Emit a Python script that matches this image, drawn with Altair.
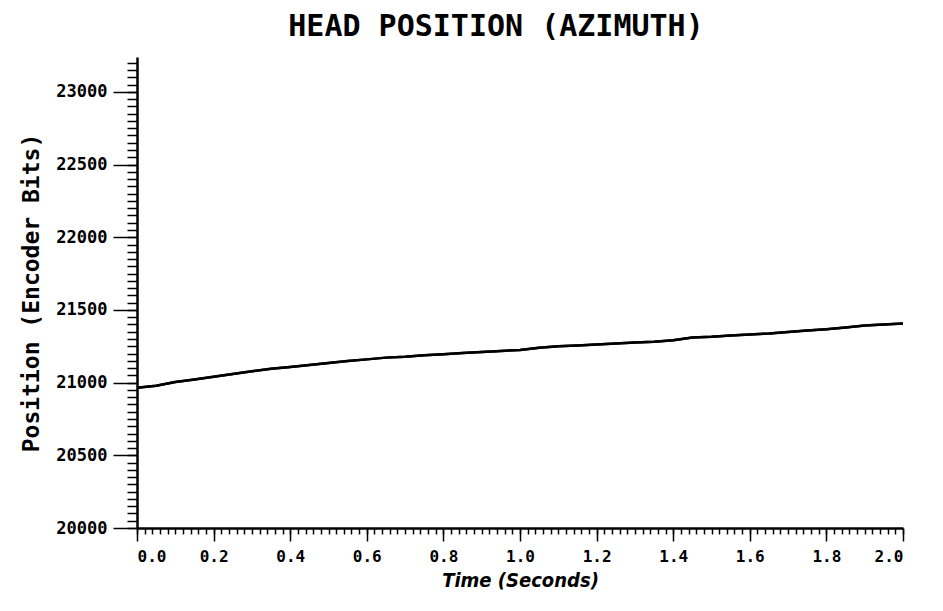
import altair as alt
import pandas as pd

# Data
times = [0.0, 0.05, 0.1, 0.15, 0.2, 0.25, 0.3, 0.35, 0.4, 0.45, 0.5, 0.55, 0.6,
         0.65, 0.7, 0.75, 0.8, 0.85, 0.9, 0.95, 1.0, 1.05, 1.1, 1.15, 1.2, 1.25,
         1.3, 1.35, 1.4, 1.45, 1.5, 1.55, 1.6, 1.65, 1.7, 1.75, 1.8, 1.85, 1.9,
         1.95, 2.0]
positions = [20965, 20978, 21005, 21022, 21040, 21060, 21078, 21095, 21108,
             21121, 21135, 21148, 21160, 21172, 21178, 21188, 21196, 21204,
             21211, 21218, 21225, 21240, 21250, 21256, 21262, 21270, 21276,
             21282, 21292, 21310, 21316, 21325, 21331, 21338, 21348, 21358,
             21368, 21380, 21393, 21400, 21407]

x_major = [0.0, 0.2, 0.4, 0.6, 0.8, 1.0, 1.2, 1.4, 1.6, 1.8, 2.0]
x_minor = [round(i * 0.02, 2) for i in range(101)]
y_major = [20000, 20500, 21000, 21500, 22000, 22500, 23000]
y_minor = [20000 + 50 * i for i in range(66)]

df = pd.DataFrame({"t": times, "pos": positions})

MONO = "DejaVu Sans Mono"
x_scale = alt.Scale(domain=[0, 2.0], nice=False, zero=False)
y_scale = alt.Scale(domain=[20000, 23240], nice=False, zero=False)

major = alt.Chart(df).mark_line(color="black", strokeWidth=2.5).encode(
    x=alt.X("t:Q", scale=x_scale,
            axis=alt.Axis(orient="bottom", values=x_major, format=".1f",
                          tickSize=13, tickWidth=1.5, tickColor="black",
                          domainColor="black", domainWidth=2.5,
                          labelFont=MONO, labelFontWeight="bold",
                          labelFontSize=16, labelColor="black",
                          labelPadding=7, grid=False,
                          title="Time (Seconds)",
                          titleFont="DejaVu Sans Condensed",
                          titleFontStyle="italic", titleFontWeight="bold",
                          titleFontSize=20, titleColor="black",
                          titlePadding=6)),
    y=alt.Y("pos:Q", scale=y_scale,
            axis=alt.Axis(orient="left", values=y_major, format="d",
                          tickSize=24, tickWidth=1.5, tickColor="black",
                          domainColor="black", domainWidth=2.5,
                          labelFont=MONO, labelFontWeight="bold",
                          labelFontSize=17, labelColor="black",
                          labelPadding=6, grid=False,
                          title="Position (Encoder Bits)",
                          titleFont=MONO, titleFontWeight="bold",
                          titleFontSize=23, titleColor="black",
                          titlePadding=12)),
)

minor = alt.Chart(df).mark_line(color="black", strokeWidth=2.5).encode(
    x=alt.X("t:Q", scale=x_scale,
            axis=alt.Axis(orient="bottom", values=x_minor, tickSize=6,
                          tickWidth=1.5, tickColor="black", labels=False,
                          domain=False, grid=False, title="")),
    y=alt.Y("pos:Q", scale=y_scale,
            axis=alt.Axis(orient="left", values=y_minor, tickSize=10,
                          tickWidth=1.5, tickColor="black", labels=False,
                          domain=False, grid=False, title="")),
)

chart = alt.layer(minor, major).resolve_axis(
    x="independent", y="independent"
).properties(
    width=766,
    height=471,
    padding={"left": 129, "top": 49, "right": 20, "bottom": 72},
    autosize=alt.AutoSizeParams(type="none"),
    view=alt.ViewBackground(stroke="transparent", strokeWidth=0),
    title=alt.TitleParams("HEAD POSITION (AZIMUTH)", font=MONO,
                          fontSize=30, fontWeight="bold", color="black",
                          anchor="middle", dx=-24, offset=15),
).configure_view(strokeWidth=0, stroke="transparent").configure(background="white")

chart.save("out.html", embed_options={"renderer": "svg", "actions": False})
